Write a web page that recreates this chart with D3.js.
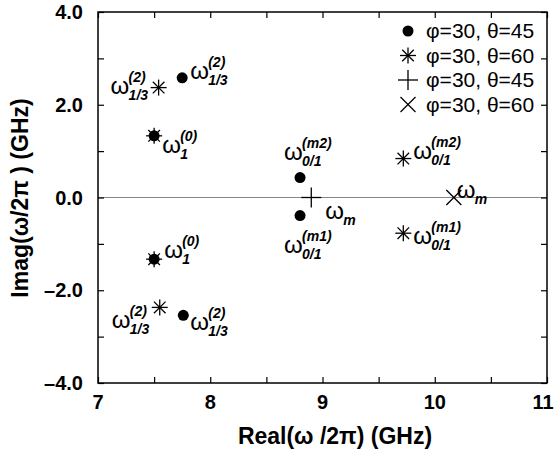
<!DOCTYPE html>
<html>
<head>
<meta charset="utf-8">
<script src="https://cdn.jsdelivr.net/npm/d3@7"></script>
<style>
  body { margin: 0; background: #fff; }
</style>
</head>
<body>
<svg id="canvas" width="556" height="466" font-family="Liberation Sans, Arial, sans-serif"></svg>
<script>
// values (Real, Imag in GHz)
let circleX = [7.75, 7.5, 8.8, 8.8, 7.5, 7.76];
let circleY = [2.58, 1.33, 0.43, -0.39, -1.33, -2.54];
let starX = [7.54, 7.5, 9.72, 9.72, 7.5, 7.55];
let starY = [2.37, 1.33, 0.84, -0.77, -1.33, -2.37];
let plusX = [8.9];
let plusY = [0.0];
let crossX = [10.17];
let crossY = [0.0];

let legendLabels = ['\u03c6=30, \u03b8=45', '\u03c6=30, \u03b8=60', '\u03c6=30, \u03b8=45', '\u03c6=30, \u03b8=60'];
let legendShapes = ['circle', 'star', 'plus', 'cross'];

let xTicks = [7, 8, 9, 10, 11];
let xMinor = [7.5, 8.5, 9.5, 10.5];
let yTicks = [4, 2, 0, -2, -4];
let yMinor = [3, 1, -1, -3];

// annotations: anchor (data), offset of the omega in px, superscript, subscript
let notes = [
  {x: 7.54, y: 2.37, dx: -48, dy: 6, sup: '(2)', sub: '1/3'},
  {x: 7.75, y: 2.58, dx: 8, dy: 1, sup: '(2)', sub: '1/3'},
  {x: 7.5, y: 1.33, dx: 8, dy: 17, sup: '(0)', sub: '1'},
  {x: 7.5, y: -1.33, dx: 10, dy: -1, sup: '(0)', sub: '1'},
  {x: 7.55, y: -2.37, dx: -48, dy: 21, sup: '(2)', sub: '1/3'},
  {x: 7.76, y: -2.54, dx: 7, dy: 15, sup: '(2)', sub: '1/3'},
  {x: 8.8, y: 0.43, dx: -16, dy: -18, sup: '(m2)', sub: '0/1'},
  {x: 8.8, y: -0.39, dx: -16, dy: 37, sup: '(m1)', sub: '0/1'},
  {x: 8.9, y: 0.0, dx: 14, dy: 21, sup: '', sub: 'm'},
  {x: 9.72, y: 0.84, dx: 10, dy: 0, sup: '(m2)', sub: '0/1'},
  {x: 9.72, y: -0.77, dx: 10, dy: 11, sup: '(m1)', sub: '0/1'},
  {x: 10.17, y: 0.0, dx: 3, dy: 0, sup: '', sub: 'm'}
];

let svg = d3.select('#canvas');
let pLeft = 98, pRight = 547, pTop = 12, pBottom = 383;

let x = d3.scaleLinear().domain([7, 11]).range([pLeft, pRight]);
let y = d3.scaleLinear().domain([-4, 4]).range([pBottom, pTop]);

// zero line
svg.append('line')
   .attr('x1', x(7)).attr('x2', x(11))
   .attr('y1', y(0)).attr('y2', y(0))
   .attr('stroke', '#888').attr('stroke-width', 1);

// axes with inward ticks on all four sides
let tickStyle = (g)=>{
  g.select('.domain').remove();
  g.selectAll('line').attr('stroke', '#000').attr('stroke-width', 1.2);
};
svg.append('g').attr('transform', `translate(0,${pBottom})`)
   .call(d3.axisBottom(x).tickValues(xTicks.concat(xMinor)).tickSizeInner(-6).tickFormat(''))
   .call(tickStyle);
svg.append('g').attr('transform', `translate(0,${pTop})`)
   .call(d3.axisTop(x).tickValues(xTicks.concat(xMinor)).tickSizeInner(-6).tickFormat(''))
   .call(tickStyle);
svg.append('g').attr('transform', `translate(${pLeft},0)`)
   .call(d3.axisLeft(y).tickValues(yTicks.concat(yMinor)).tickSizeInner(-6).tickFormat(''))
   .call(tickStyle);
svg.append('g').attr('transform', `translate(${pRight},0)`)
   .call(d3.axisRight(y).tickValues(yTicks.concat(yMinor)).tickSizeInner(-6).tickFormat(''))
   .call(tickStyle);

svg.append('rect')
   .attr('x', pLeft).attr('y', pTop)
   .attr('width', pRight - pLeft).attr('height', pBottom - pTop)
   .attr('fill', 'none').attr('stroke', '#000').attr('stroke-width', 1.5);

// tick labels (last one kept inside the page)
svg.selectAll('.xlab').data(xTicks).enter().append('text')
   .attr('x', d => Math.min(x(d), 543)).attr('y', pBottom + 26)
   .attr('text-anchor', 'middle')
   .attr('font-size', 20).attr('font-weight', 'bold')
   .text(d => d);
svg.selectAll('.ylab').data(yTicks).enter().append('text')
   .attr('x', pLeft - 15).attr('y', d => y(d) + 7)
   .attr('text-anchor', 'end')
   .attr('font-size', 20).attr('font-weight', 'bold')
   .text(d => (d < 0 ? '\u2013' : '') + Math.abs(d).toFixed(1));

// axis titles
svg.append('text')
   .attr('x', 335).attr('y', 444)
   .attr('text-anchor', 'middle')
   .attr('font-size', 23).attr('font-weight', 'bold')
   .text('Real(\u03c9 /2\u03c0) (GHz)');
svg.append('text')
   .attr('transform', 'translate(28,198) rotate(-90)')
   .attr('text-anchor', 'middle')
   .attr('font-size', 23).attr('font-weight', 'bold')
   .text('Imag(\u03c9/2\u03c0 ) (GHz)');

// marker drawing
let drawMarker = (g, shape, cx, cy)=>{
  if (shape === 'circle') {
    g.append('circle').attr('cx', cx).attr('cy', cy).attr('r', 5.5).attr('fill', '#000');
    return;
  }
  let segs = [];
  if (shape === 'star') {
    let r = 8, d = 5.8;
    segs = [[-r, 0, r, 0], [0, -r, 0, r], [-d, -d, d, d], [-d, d, d, -d]];
  } else if (shape === 'plus') {
    let r = 10;
    segs = [[-r, 0, r, 0], [0, -r, 0, r]];
  } else {
    let r = 7.5;
    segs = [[-r, -r, r, r], [-r, r, r, -r]];
  }
  segs.forEach(s => {
    g.append('line')
     .attr('x1', cx + s[0]).attr('y1', cy + s[1])
     .attr('x2', cx + s[2]).attr('y2', cy + s[3])
     .attr('stroke', '#000').attr('stroke-width', 1.3);
  });
};

let marks = svg.append('g');
starX.forEach((v, i) => drawMarker(marks, 'star', x(v), y(starY[i])));
circleX.forEach((v, i) => drawMarker(marks, 'circle', x(v), y(circleY[i])));
plusX.forEach((v, i) => drawMarker(marks, 'plus', x(v), y(plusY[i])));
crossX.forEach((v, i) => drawMarker(marks, 'cross', x(v), y(crossY[i])));

// omega annotations
let ann = svg.append('g');
notes.forEach(n => {
  let ox = x(n.x) + n.dx, oy = y(n.y) + n.dy;
  ann.append('text').attr('x', ox).attr('y', oy).attr('font-size', 24).text('\u03c9');
  if (n.sup) {
    ann.append('text').attr('x', ox + 18).attr('y', oy - 12)
       .attr('font-size', 14).attr('font-style', 'italic').attr('font-weight', 'bold')
       .text(n.sup);
  }
  ann.append('text').attr('x', ox + 18).attr('y', oy + 6)
     .attr('font-size', 14).attr('font-style', 'italic').attr('font-weight', 'bold')
     .text(n.sub);
});

// legend
let legend = svg.append('g');
legendLabels.forEach((lab, i) => {
  let ly = 31 + i * 24.5;
  drawMarker(legend, legendShapes[i], 408, ly);
  legend.append('text')
        .attr('x', 426).attr('y', ly + 7)
        .attr('font-size', 21)
        .text(lab);
});
</script>
</body>
</html>
